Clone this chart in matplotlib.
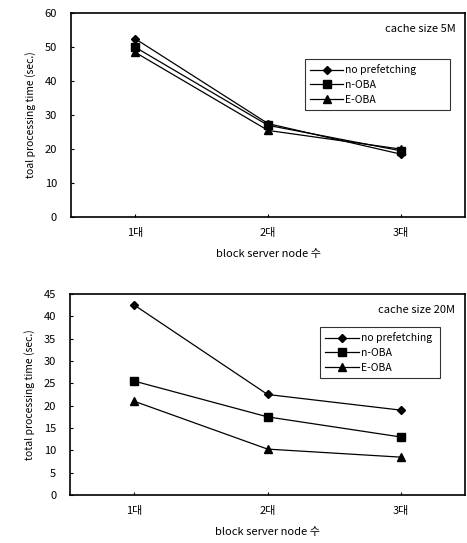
import matplotlib.pyplot as plt

plt.rcParams['font.family'] = ['Noto Sans CJK KR', 'DejaVu Sans']

# data
nodes = ['1대', '2대', '3대']
series_names = ['no prefetching', 'n-OBA', 'E-OBA']

top_no_pref = [52.5, 27.5, 18.5]
top_n_oba = [50.0, 27.0, 19.5]
top_e_oba = [48.5, 25.5, 20.0]

bot_no_pref = [42.5, 22.5, 19.0]
bot_n_oba = [25.5, 17.5, 13.0]
bot_e_oba = [21.0, 10.3, 8.5]

markers = ['D', 's', '^']
msizes = [4.5, 6, 6]

fig = plt.figure(figsize=(4.67, 5.43), dpi=100)
ax1 = fig.add_axes([0.152, 0.600, 0.844, 0.376])
ax2 = fig.add_axes([0.150, 0.088, 0.846, 0.371])

panels = [
    (ax1, [top_no_pref, top_n_oba, top_e_oba], 60, 10, 'cache size 5M',
     'toal processing time (sec.)', (0.58, 0.50, 0.395, 0.30)),
    (ax2, [bot_no_pref, bot_n_oba, bot_e_oba], 45, 5, 'cache size 20M',
     'total processing time (sec.)', (0.62, 0.58, 0.33, 0.28)),
]

x = list(range(len(nodes)))
for ax, data, ymax, step, note, ylab, bbox in panels:
    for vals, name, m, ms in zip(data, series_names, markers, msizes):
        ax.plot(x, vals, color='black', linewidth=0.9, marker=m,
                markersize=ms, label=name)
    ax.set_xlim(-0.48, 2.48)
    ax.set_ylim(0, ymax)
    ax.set_yticks(range(0, ymax + 1, step))
    ax.set_xticks(x)
    ax.set_xticklabels(nodes)
    ax.tick_params(direction='in', length=2, labelsize=8, pad=8)
    ax.tick_params(axis='y', pad=10)
    for sp in ax.spines.values():
        sp.set_linewidth(1.2)
    ax.set_ylabel(ylab, fontsize=7.5, labelpad=6)
    ax.set_xlabel('block server node 수', fontsize=8, labelpad=8)
    ax.text(0.975, 0.92, note, transform=ax.transAxes, ha='right',
            va='center', fontsize=8)
    leg = ax.legend(loc='upper left', bbox_to_anchor=bbox, mode='expand',
                    fontsize=7.5, frameon=True, fancybox=False,
                    borderpad=0.5, labelspacing=0.45, handlelength=3.2,
                    handletextpad=0.2)
    leg.get_frame().set_edgecolor('black')
    leg.get_frame().set_linewidth(0.8)

fig.savefig('out.png', dpi=100)
